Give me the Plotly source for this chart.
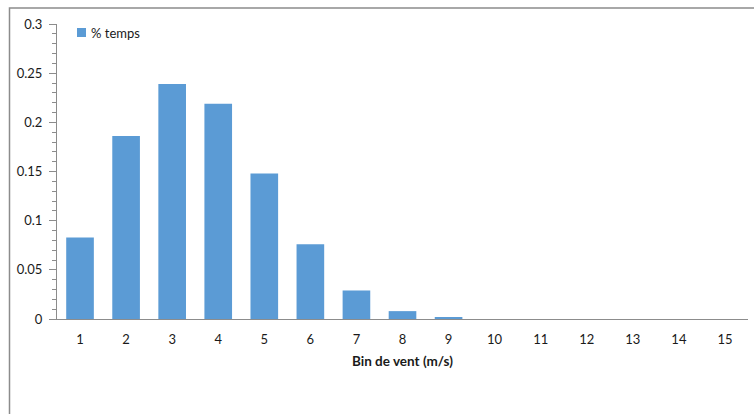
import plotly.graph_objects as go

categories = [str(i) for i in range(1, 16)]
values = [0.083, 0.186, 0.239, 0.219, 0.148, 0.076, 0.029, 0.008, 0.002, 0, 0, 0, 0, 0, 0]
series_name = "% temps"
x_title = "Bin de vent (m/s)"

W, H = 754, 414
L, R, T, B = 57, 6, 24, 95
pw, ph = W - L - R, H - T - B
bar_color = "#5B9BD5"

fig = go.Figure()
fig.add_trace(go.Bar(
    x=categories, y=values, name=series_name,
    marker=dict(color=bar_color, line=dict(width=0)),
    width=0.6, showlegend=False,
))

def px_x(x):
    return (x - L) / pw

def px_y(y):
    return (H - B - y) / ph

# outer chart border (left and top)
fig.add_shape(type="path", xref="paper", yref="paper",
              path=f"M {px_x(9.5)} {px_y(414)} L {px_x(9.5)} {px_y(8)} L {px_x(754)} {px_y(8)}",
              line=dict(color="#8C8C8C", width=1.5))

# legend (marker + text)
fig.add_shape(type="rect", xref="paper", yref="paper",
              x0=px_x(77), x1=px_x(86), y0=px_y(37), y1=px_y(28),
              fillcolor=bar_color, line=dict(width=0))
fig.add_annotation(xref="paper", yref="paper", x=px_x(89), y=px_y(32.5),
                   xanchor="left", yanchor="middle", text=series_name,
                   showarrow=False, font=dict(size=13))

font = "Lato, 'Open Sans', sans-serif"
fig.update_layout(
    width=W, height=H,
    margin=dict(l=L, r=R, t=T, b=B),
    paper_bgcolor="white", plot_bgcolor="white",
    font=dict(family=font, size=13, color="#1a1a1a"),
    showlegend=False,
    bargap=0.4,
    xaxis=dict(
        type="category", showline=True, linecolor="#8C8C8C", linewidth=1,
        ticks="", showgrid=False, zeroline=False,
        tickfont=dict(size=13), ticklabelstandoff=8,
        title=dict(text=f"<b>{x_title}</b>", font=dict(size=13.5), standoff=10),
    ),
    yaxis=dict(
        range=[0, 0.3], tickvals=[0, 0.05, 0.1, 0.15, 0.2, 0.25, 0.3],
        ticktext=["0", "0.05", "0.1", "0.15", "0.2", "0.25", "0.3"],
        showline=True, linecolor="#8C8C8C", linewidth=1,
        ticks="outside", ticklen=7, tickcolor="#8C8C8C",
        showgrid=False, zeroline=False, tickfont=dict(size=13),
        ticklabelstandoff=4,
        minor=dict(ticks="outside", ticklen=4, dtick=0.01, tickcolor="#8C8C8C", showgrid=False),
    ),
)

fig.write_html("out.html")
